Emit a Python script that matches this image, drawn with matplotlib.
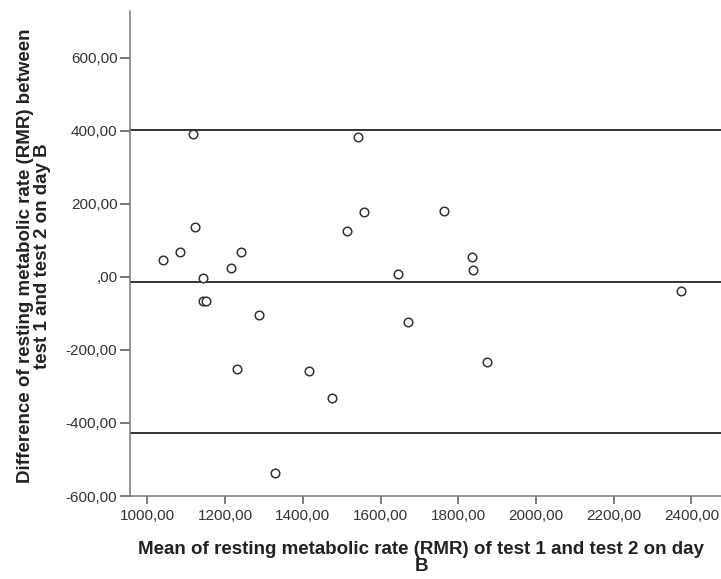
import matplotlib
matplotlib.use("Agg")
import matplotlib.pyplot as plt

plt.rcParams['font.family'] = ['Liberation Sans', 'DejaVu Sans']

# mean of test 1 and test 2 (x), difference test 1 - test 2 (y)
mean_rmr = [1118, 1541, 1558, 1513, 1122, 1083, 1040, 1240, 1214, 1143, 1645,
            1144, 1151, 1286, 1671, 1231, 1415, 1476, 1329,
            1762, 1835, 1838, 2373, 1874]
diff_rmr = [391, 383, 179, 125, 137, 68, 47, 68, 25, -3, 8,
            -66, -66, -104, -124, -252, -259, -333, -538,
            181, 54, 20, -39, -233]

mean_diff = -14
upper_loa = 401
lower_loa = -428

x_ticks = [1000, 1200, 1400, 1600, 1800, 2000, 2200, 2400]
y_ticks = [-600, -400, -200, 0, 200, 400, 600]


def spss_fmt(v):
    s = f"{v:.2f}".replace(".", ",")
    if s.startswith("0,"):
        s = s[1:]
    return s


fig = plt.figure(figsize=(7.21, 5.79), dpi=100)
ax = fig.add_axes([130 / 721, 83 / 579, 1 - 130 / 721, (496 - 11) / 579])

for yv in (upper_loa, mean_diff, lower_loa):
    ax.axhline(yv, color='#333333', lw=1.4, zorder=1)

ax.scatter(mean_rmr, diff_rmr, s=38, facecolors='white', edgecolors='#333333',
           linewidths=1.1, zorder=3)

ax.set_xlim(955, 2476)
ax.set_ylim(-600, 728)
ax.set_xticks(x_ticks)
ax.set_yticks(y_ticks)
ax.set_xticklabels([spss_fmt(v) for v in x_ticks])
ax.set_yticklabels([spss_fmt(v) for v in y_ticks])
ax.tick_params(axis='x', length=6, width=1.1, color='#555555', labelsize=11,
               labelcolor='#333333', pad=3)
ax.tick_params(axis='y', length=7, width=1.1, color='#555555', labelsize=11,
               labelcolor='#333333', pad=2)

for side in ('top', 'right'):
    ax.spines[side].set_visible(False)
for side in ('left', 'bottom'):
    ax.spines[side].set_color('#777777')
    ax.spines[side].set_linewidth(1.1)

fig.text(34 / 721, 1 - 256 / 579,
         "Difference of resting metabolic rate (RMR) between\ntest 1 and test 2 on day B",
         rotation=90, ha='center', va='center', ma='center',
         fontsize=13.5, fontweight='bold', color='#222222', linespacing=0.95)
fig.text(421 / 721, 1 - 558 / 579,
         "Mean of resting metabolic rate (RMR) of test 1 and test 2 on day\nB",
         ha='center', va='center', ma='center',
         fontsize=13.5, fontweight='bold', color='#222222', linespacing=0.95)

fig.savefig("out.png", dpi=100)
